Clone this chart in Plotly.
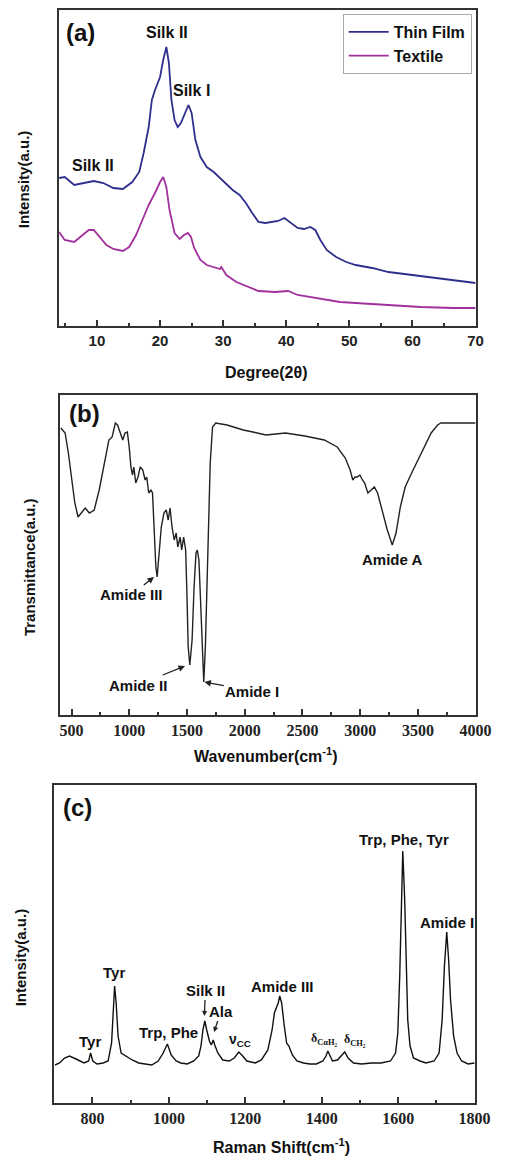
import plotly.graph_objects as go

W, H = 510, 1158

# ---------------- (a) XRD ----------------
film_deg = [4.0, 4.9, 6.4, 7.9, 9.5, 11.0, 12.6, 14.1, 15.6, 16.7, 17.4, 18.2, 18.7, 19.2, 20.0, 20.5,
            21.0, 21.4, 21.8, 22.3, 22.8, 23.3, 23.9, 24.5, 25.0, 25.6, 26.4, 27.4, 28.5, 29.5, 30.5,
            31.5, 32.6, 33.6, 34.6, 35.6, 36.7, 37.7, 38.7, 39.7, 40.8, 41.8, 42.8, 43.8, 44.6, 45.4,
            46.4, 47.9, 49.5, 51.0, 53.6, 56.2, 58.7, 61.3, 63.8, 66.4, 70.0]
film_int = [148, 149, 141, 143, 145, 143, 138, 137, 144, 154, 173, 199, 226, 236, 249, 266,
            279, 263, 226, 206, 199, 203, 213, 221, 213, 186, 169, 159, 154, 148, 141,
            136, 131, 123, 113, 104, 103, 104, 105, 108, 103, 98, 97, 99, 96, 86,
            76, 69, 64, 61, 58, 54, 52, 50, 48, 46, 43]

textile_deg = [4.0, 4.9, 6.4, 7.4, 8.7, 9.5, 10.5, 11.5, 12.6, 14.1, 15.1, 16.2, 17.2, 18.2, 19.2, 20.0,
               20.5, 21.0, 21.5, 22.3, 23.1, 23.8, 24.4, 24.9, 25.4, 26.4, 27.4, 28.5, 29.5, 29.7, 30.5,
               32.1, 33.6, 35.6, 38.2, 40.3, 41.8, 43.8, 45.9, 48.5, 51.0, 56.2, 61.3, 66.4, 70.0]
textile_int = [94, 86, 84, 89, 96, 96, 89, 81, 77, 75, 79, 91, 106, 121, 133, 144,
               149, 139, 116, 93, 87, 91, 93, 89, 78, 66, 61, 59, 57, 59, 51,
               44, 40, 35, 34, 35, 31, 29, 27, 24, 23, 21, 19, 18, 18]

xrd_tickvals = [10, 20, 30, 40, 50, 60, 70]
xrd_ticktext = ["10", "20", "30", "40", "50", "60", "70"]

# ---------------- (b) FTIR ----------------
ftir_wn = [407, 444, 472, 500, 528, 556, 584, 618, 654, 696, 739, 781, 823, 851, 879, 898, 921, 943,
           963, 983, 999, 1014, 1028, 1039, 1056, 1075, 1095, 1117, 1137, 1151, 1168, 1187, 1201,
           1216, 1230, 1241, 1258, 1277, 1300, 1320, 1337, 1353, 1370, 1389, 1406, 1420, 1440,
           1454, 1471, 1488, 1499, 1510, 1524, 1544, 1561, 1578, 1589, 1603, 1617, 1631, 1645,
           1659, 1679, 1701, 1721, 1749, 1847, 1987, 2071, 2184, 2352, 2520, 2689, 2801, 2871,
           2913, 2936, 2955, 2975, 2997, 3020, 3039, 3067, 3095, 3123, 3151, 3193, 3235, 3278,
           3311, 3348, 3390, 3446, 3502, 3559, 3615, 3671, 3699, 4000]
ftir_t = [287, 282, 262, 235, 212, 198, 202, 207, 202, 205, 225, 252, 275, 278, 292, 290, 282, 275,
          282, 283, 268, 248, 240, 248, 232, 238, 248, 245, 235, 238, 222, 225, 222,
          185, 148, 138, 162, 188, 202, 205, 195, 207, 188, 175, 182, 168, 178,
          165, 178, 165, 122, 68, 50, 75, 128, 162, 165, 155, 115, 62, 33,
          68, 168, 252, 288, 292, 290, 285, 283, 280, 282, 279, 275, 268, 257,
          245, 235, 238, 238, 240, 235, 232, 222, 225, 228, 222, 202, 185, 170,
          182, 208, 228, 242, 255, 268, 282, 290, 292, 292]

ftir_tickvals = [500, 1000, 1500, 2000, 2500, 3000, 3500, 4000]
ftir_ticktext = ["500", "1000", "1500", "2000", "2500", "3000", "3500", "4000"]

# ---------------- (c) Raman ----------------
raman_shift = [702, 714, 727, 740, 757, 778, 790, 795, 801, 812, 828, 841, 850, 854, 858, 862, 867,
               875, 888, 904, 921, 938, 955, 972, 985, 996, 1006, 1019, 1031, 1048, 1065, 1078,
               1084, 1089, 1094, 1099, 1106, 1111, 1116, 1120, 1128, 1141, 1158, 1171, 1183, 1193,
               1204, 1226, 1242, 1259, 1270, 1276, 1281, 1286, 1290, 1295, 1302, 1308, 1314, 1323,
               1335, 1352, 1369, 1386, 1403, 1411, 1416, 1422, 1428, 1441, 1454, 1460, 1469, 1483,
               1504, 1530, 1555, 1580, 1593, 1599, 1604, 1608, 1612, 1617, 1621, 1625, 1631, 1640,
               1657, 1673, 1694, 1707, 1715, 1721, 1727, 1732, 1737, 1745, 1754, 1766, 1783, 1800]
raman_int = [38, 40, 45, 47, 44, 40, 42, 50, 42, 39, 40, 42, 60, 97, 117, 100, 67,
             50, 47, 43, 40, 39, 38, 42, 50, 59, 48, 42, 40, 39, 42, 47,
             57, 73, 82, 73, 62, 58, 63, 58, 50, 43, 42, 45, 51, 47,
             42, 40, 43, 53, 73, 90, 95, 100, 107, 100, 77, 60, 57, 48,
             42, 40, 39, 39, 42, 47, 52, 47, 42, 43, 48, 51, 45, 40,
             39, 40, 40, 42, 50, 70, 127, 193, 252, 203, 137, 83, 57, 45,
             42, 40, 42, 50, 83, 137, 171, 143, 103, 67, 50, 42, 39, 40]

raman_tickvals = [800, 1000, 1200, 1400, 1600, 1800]
raman_ticktext = ["800", "1000", "1200", "1400", "1600", "1800"]

SANS = "Liberation Sans"
SERIF = "Liberation Serif"


def px(x):
    return x / W


def py(y):
    return 1 - y / H


def bold(lst):
    return ["<b>%s</b>" % t for t in lst]


fig = go.Figure()
fig.add_trace(go.Scatter(x=film_deg, y=film_int, mode="lines", name="<b>Thin Film</b>",
                         line=dict(color="#2e2f8c", width=1.8), xaxis="x", yaxis="y"))
fig.add_trace(go.Scatter(x=textile_deg, y=textile_int, mode="lines", name="<b>Textile</b>",
                         line=dict(color="#a2309e", width=1.8), xaxis="x", yaxis="y"))
fig.add_trace(go.Scatter(x=ftir_wn, y=ftir_t, mode="lines", showlegend=False,
                         line=dict(color="#222222", width=1.4), xaxis="x2", yaxis="y2"))
fig.add_trace(go.Scatter(x=raman_shift, y=raman_int, mode="lines", showlegend=False,
                         line=dict(color="#111111", width=1.4), xaxis="x3", yaxis="y3"))

frame = dict(showline=True, linecolor="#333333", linewidth=1.6, mirror=True,
             showgrid=False, zeroline=False)
tick_common = dict(ticks="inside", ticklen=6, tickwidth=1.5, tickcolor="#333333", tickmode="array")

fig.update_layout(
    width=W, height=H, autosize=False,
    margin=dict(l=0, r=0, t=0, b=0),
    paper_bgcolor="white", plot_bgcolor="white",
    xaxis=dict(domain=[px(61), px(491)], range=[4, 70], anchor="y",
               tickvals=xrd_tickvals, ticktext=bold(xrd_ticktext),
               minor=dict(ticks="inside", ticklen=3, dtick=5, tick0=0, tickcolor="#333333"),
               tickfont=dict(family=SANS, size=15, color="#222222"), **tick_common, **frame),
    yaxis=dict(domain=[py(326), py(9.5)], range=[0, 316.5], anchor="x",
               showticklabels=False, ticks="", **frame),
    xaxis2=dict(domain=[px(62), px(491)], range=[400, 4000], anchor="y2",
                tickvals=ftir_tickvals, ticktext=bold(ftir_ticktext),
                minor=dict(ticks="inside", ticklen=3, dtick=250, tick0=500, tickcolor="#333333"),
                tickfont=dict(family=SERIF, size=16, color="#222222"), **tick_common, **frame),
    yaxis2=dict(domain=[py(715), py(395)], range=[0, 320], anchor="x2",
                showticklabels=False, ticks="", **frame),
    xaxis3=dict(domain=[px(56), px(490)], range=[700, 1800], anchor="y3",
                tickvals=raman_tickvals, ticktext=bold(raman_ticktext),
                minor=dict(ticks="inside", ticklen=3, dtick=100, tick0=800, tickcolor="#333333"),
                tickfont=dict(family=SERIF, size=16, color="#222222"), **tick_common, **frame),
    yaxis3=dict(domain=[py(1103), py(785)], range=[0, 318], anchor="x3",
                showticklabels=False, ticks="", **frame),
    legend=dict(x=px(487), y=py(14), xanchor="right", yanchor="top",
                bordercolor="#aaaaaa", borderwidth=1, bgcolor="white",
                font=dict(family=SANS, size=16, color="#111111"),
                itemwidth=40, tracegroupgap=0),
    showlegend=True,
)


def label(text, x, y, size=15, family=SANS, angle=0, color="#111111", arrow_to=None, asize=1.0):
    kw = dict(showarrow=False)
    if arrow_to is not None:
        hx, hy = arrow_to
        kw = dict(showarrow=True, ax=x - hx, ay=y - hy, axref="pixel", ayref="pixel",
                  arrowhead=2, arrowsize=asize, arrowwidth=1.3, arrowcolor="#222222", standoff=0)
        x, y = hx, hy
    fig.add_annotation(text="<b>%s</b>" % text, x=px(x), y=py(y), xref="paper", yref="paper",
                       xanchor="center", yanchor="middle", textangle=angle,
                       font=dict(family=family, size=size, color=color), **kw)


# panel (a)
label("(a)", 83, 33, size=24)
label("Silk II", 172, 33, size=16)
label("Silk I", 198, 90, size=16)
label("Silk II", 96, 165, size=16)
label("Degree(2θ)", 275, 372, size=16)
label("Intensity(a.u.)", 25, 179, size=15, angle=-90)

# panel (b)
label("(b)", 87, 413, size=24)
label("Amide III", 136, 595, size=15, arrow_to=(159, 577))
label("Amide II", 144, 685, size=15, arrow_to=(191, 666))
label("Amide I", 259, 691, size=15, arrow_to=(211, 682))
label("Amide A", 405, 559, size=15)
label("Wavenumber(cm<sup>-1</sup>)", 275, 755, size=16)
label("Transmittance(a.u.)", 30, 567, size=15, angle=-90)

# panel (c)
label("(c)", 80, 807, size=24)
label("Tyr", 93, 1041, size=15)
label("Tyr", 118, 972, size=15)
label("Trp, Phe", 174, 1032, size=15)
label("Silk II", 212, 990, size=15, arrow_to=(211, 1016), asize=0.8)
label("Ala", 228, 1011, size=15, arrow_to=(221, 1032), asize=0.8)
label("ν<sub>CC</sub>", 248, 1040, size=14)
label("Amide III", 292, 986, size=15)
label("δ<sub>CαH₂</sub>", 335, 1039, size=12, family=SERIF)
label("δ<sub>CH₂</sub>", 366, 1040, size=12, family=SERIF)
label("Trp, Phe, Tyr", 417, 839, size=15)
label("Amide I", 461, 922, size=15)
label("Raman Shift(cm<sup>-1</sup>)", 291, 1146, size=16)
label("Intensity(a.u.)", 21, 957, size=15, angle=-90)

fig.write_html("out.html", config={"displayModeBar": False},
               post_script="document.body.style.margin='0';document.body.style.padding='0';")
